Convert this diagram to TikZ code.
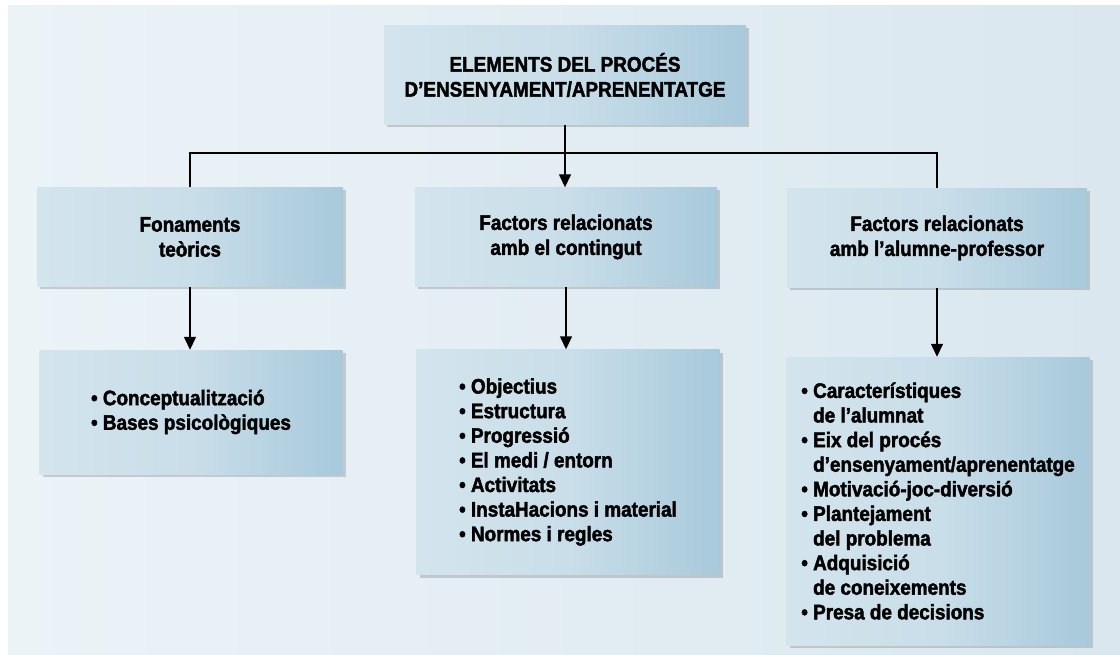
\documentclass[tikz,border=0pt]{standalone}
\usepackage{fontspec}
\setmainfont{Liberation Sans}[FakeStretch=0.9, BoldFeatures={FakeBold=2}]
\usetikzlibrary{positioning,shadows,arrows.meta}

\definecolor{panellA}{HTML}{EBF3F7}
\definecolor{panellB}{HTML}{DAE7EF}
\definecolor{capsaA}{HTML}{D3E4ED}
\definecolor{capsaM}{HTML}{C9DEE9}
\definecolor{capsaB}{HTML}{A7C9DB}

\tikzset{
  caixa/.style={left color=capsaA, right color=capsaB, middle color=capsaM,
    drop shadow={shadow xshift=3pt, shadow yshift=-3pt, opacity=0.35},
    inner sep=0pt, align=center,
    font=\bfseries\fontsize{21}{25}\selectfont},
  llista/.style={caixa, align=left, font=\bfseries\fontsize{21}{24.6}\selectfont},
  fletxa/.style={-{Triangle[width=12pt,length=13pt]}, line width=1.4pt},
  linia/.style={line width=1.4pt}
}

\begin{document}
\begin{tikzpicture}[x=1pt,y=-1pt]
    \useasboundingbox (0,0) rectangle (1120,655);
    % Background panel
    \fill[left color=panellA, right color=panellB] (8,6) rectangle (1120,655);

    % Top box
    \node[caixa, minimum width=362pt, minimum height=99pt] (elements) at (565,75)
        {ELEMENTS DEL PROCÉS\\D’ENSENYAMENT/APRENENTATGE};

    % Second row
    \node[caixa, minimum width=306pt, minimum height=99pt] (fonaments) at (190,237)
        {Fonaments\\teòrics};
    \node[caixa, minimum width=302pt, minimum height=99pt] (contingut) at (566,237)
        {Factors relacionats\\amb el contingut};
    \node[caixa, minimum width=300pt, minimum height=99pt] (alumne) at (937,238)
        {Factors relacionats\\amb l’alumne-professor};

    % Lists
    \node[llista, minimum width=303pt, minimum height=124pt] (teoria) at (191,412)
        {\textbullet\ Conceptualització\\\textbullet\ Bases psicològiques};
    \node[llista, minimum width=303pt, minimum height=225pt] (llistacont) at (568,462)
        {\textbullet\ Objectius\\
         \textbullet\ Estructura\\
         \textbullet\ Progressió\\
         \textbullet\ El medi / entorn\\
         \textbullet\ Activitats\\
         \textbullet\ InstaHacions i material\\
         \textbullet\ Normes i regles};
    \node[llista, minimum width=303pt, minimum height=288pt] (llistaalum) at (938,501)
        {\textbullet\ Característiques\\
         \phantom{\textbullet\ }de l’alumnat\\
         \textbullet\ Eix del procés\\
         \phantom{\textbullet\ }d’ensenyament/aprenentatge\\
         \textbullet\ Motivació-joc-diversió\\
         \textbullet\ Plantejament\\
         \phantom{\textbullet\ }del problema\\
         \textbullet\ Adquisició\\
         \phantom{\textbullet\ }de coneixements\\
         \textbullet\ Presa de decisions};

    % Connectors
    \coordinate (barra) at (0,153);
    \draw[linia] (fonaments.north) -- (fonaments.north |- barra)
        -- (alumne.north |- barra) -- (alumne.north);
    \draw[fletxa] (elements.south) -- (elements.south |- contingut.north);
    \foreach \a/\b in {fonaments/teoria, contingut/llistacont, alumne/llistaalum}
        \draw[fletxa] (\a.south) -- (\a.south |- \b.north);
\end{tikzpicture}
\end{document}
